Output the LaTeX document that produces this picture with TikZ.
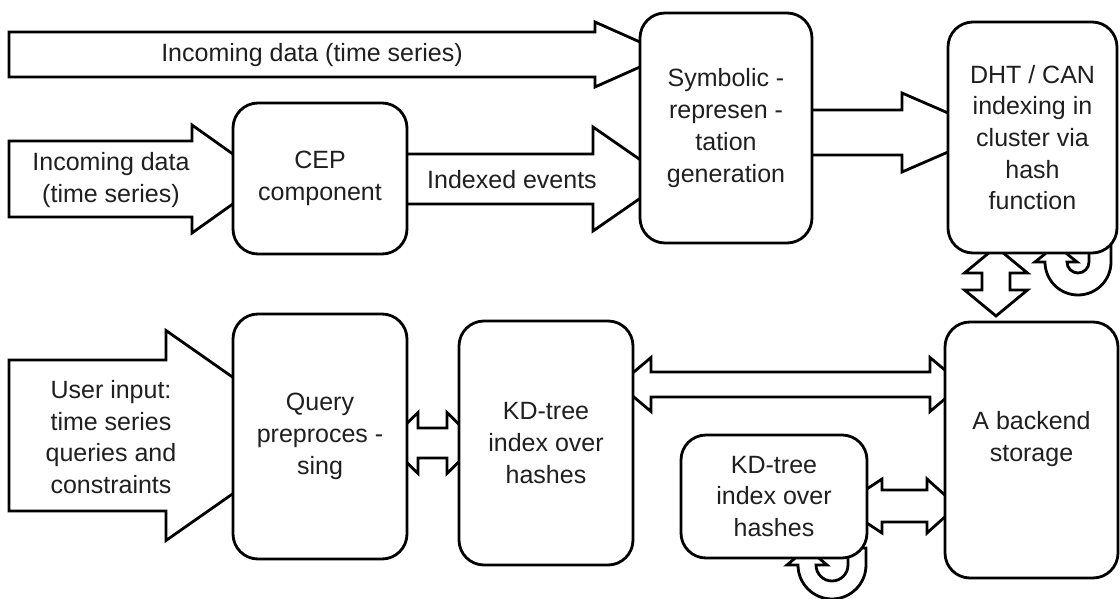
\documentclass[tikz,border=0pt]{standalone}
\usepackage{fontspec}
\setmainfont{Liberation Sans}
\usetikzlibrary{calc}
\pgfdeclarelayer{background}
\pgfsetlayers{background,main}
\tikzset{
  box/.style={draw, line width=2.8pt, rounded corners=25pt, fill=white, align=center,
    inner sep=0pt, font=\fontsize{25}{31.7}\selectfont, text=black!88},
  blk/.style={draw, line width=2.8pt, fill=white, line join=miter, miter limit=10},
  lbl/.style={align=center, inner sep=0pt, font=\fontsize{25}{31.7}\selectfont, text=black!88},
}
% right-pointing block arrow: start x, head base x, tip x, centre y, shaft half, head half
\newcommand{\ArrR}[6]{\draw[blk] (#1,{#4-#5}) -- (#2,{#4-#5}) -- (#2,{#4-#6}) -- (#3,#4)
  -- (#2,{#4+#6}) -- (#2,{#4+#5}) -- (#1,{#4+#5}) -- cycle;}
% horizontal double block arrow: left tip, left base, right base, right tip, centre y, shaft half, head half
\newcommand{\ArrD}[7]{\draw[blk] (#1,#5) -- (#2,{#5-#7}) -- (#2,{#5-#6}) -- (#3,{#5-#6})
  -- (#3,{#5-#7}) -- (#4,#5) -- (#3,{#5+#7}) -- (#3,{#5+#6}) -- (#2,{#5+#6})
  -- (#2,{#5+#7}) -- cycle;}
\begin{document}
\begin{tikzpicture}[x=1pt,y=-1pt]
\useasboundingbox (0,0) rectangle (1120,599);

% boxes
\node[box, minimum width=172pt, minimum height=230pt] (sym) at (726,128)
  {Symbolic -\\represen -\\tation\\generation};
\node[box, minimum width=169pt, minimum height=231pt] (dht) at (1032.5,137.5)
  {DHT / CAN\\indexing in\\cluster via\\hash\\function};
\node[box, minimum width=174pt, minimum height=151pt] (cep) at (320,178.5)
  {CEP\\component};
\node[box, minimum width=174pt, minimum height=245pt] (query) at (320,436.5)
  {Query\\preproces -\\sing};
\node[box, minimum width=174pt, minimum height=244pt] (kd1) at (546,443)
  {KD-tree\\index over\\hashes};
\node[box, minimum width=186pt, minimum height=123pt] (kd2) at (774,496.5)
  {KD-tree\\index over\\hashes};
\node[box, minimum width=173pt, minimum height=256pt] (back) at (1031.5,450)
  {\begin{tabular}{@{}c@{}}A backend\\storage\\[22pt]\end{tabular}};

% arrow labels
\node[lbl] (l1) at (312,55) {Incoming data (time series)};
\node[lbl] (l2) at (111,180) {Incoming data\\(time series)};
\node[lbl] (l3) at (512,180) {Indexed events};
\node[lbl] (l4) at (111,437) {User input:\\time series\\queries and\\constraints};

\begin{pgfonlayer}{background}
  % incoming data -> symbolic
  \ArrR{9}{595}{668}{54.5}{22.5}{32.5}
  % incoming data -> cep
  \ArrR{9}{192}{268}{179}{38}{54}
  % cep -> symbolic (indexed events)
  \ArrR{400}{593}{668}{179}{25}{52}
  % symbolic -> dht
  \ArrR{805}{902}{993}{132.5}{22.5}{39.5}
  % user input -> query
  \ArrR{9}{166}{316}{435.5}{75.5}{105}
  % query <-> kd1
  \ArrD{387}{418}{447}{478}{443}{15}{30.5}
  % kd1 <-> backend
  \ArrD{619}{651}{930}{962}{384.5}{12.5}{27}
  % kd2 <-> backend
  \ArrD{841}{882}{927}{957}{506}{16}{27}
  % dht <-> backend (vertical)
  \draw[blk] (996,247) -- (1027.5,273) -- (1010,273) -- (1010,290) -- (1027.5,290)
    -- (996,316) -- (964.5,290) -- (982,290) -- (982,273) -- (964.5,273) -- cycle;
  % dht self loop
  \draw[blk] (1111,245) -- (1111,262) arc (0:180:33) -- (1035,262) -- (1056,245)
    -- (1077,262) -- (1067,262) arc (180:0:11) -- (1089,245) -- cycle;
  % kd2 self loop
  \draw[blk] (866,548) -- (866,565) arc (0:180:34) -- (787,565) -- (807,548)
    -- (827,565) -- (816,565) arc (180:0:16) -- (848,548) -- cycle;
\end{pgfonlayer}
\end{tikzpicture}
\end{document}
